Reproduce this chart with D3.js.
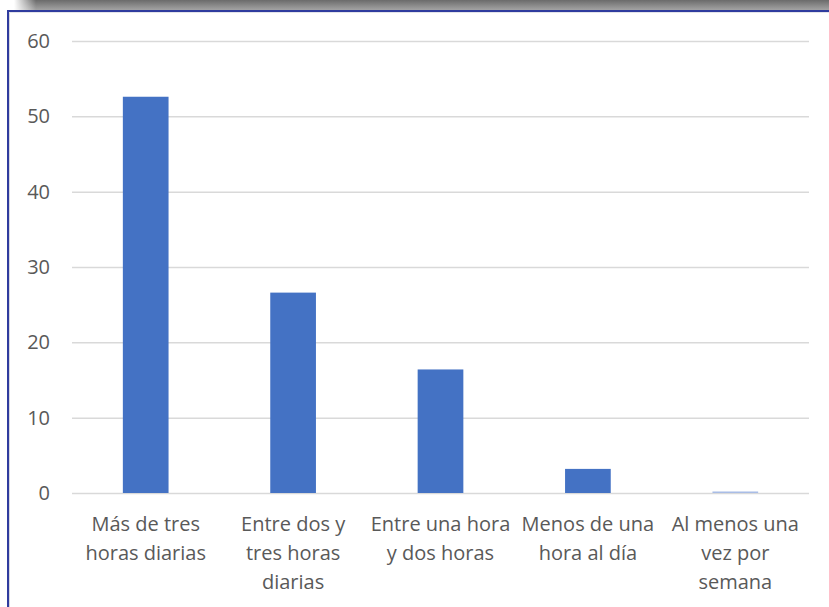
<!DOCTYPE html>
<html><head><meta charset="utf-8">
<script src="https://cdn.jsdelivr.net/npm/d3@7"></script>
<style>body{margin:0;background:#fff;}svg{display:block;}</style>
</head><body>
<svg id="c" width="829" height="607"></svg>
<script>
const categories = [
  ["Más de tres","horas diarias"],
  ["Entre dos y","tres horas","diarias"],
  ["Entre una hora","y dos horas"],
  ["Menos de una","hora al día"],
  ["Al menos una","vez por","semana"]
];
const values = [52.6, 26.6, 16.4, 3.2, 0.2];
const yTicks = [0,10,20,30,40,50,60];

(function(){
const svg = d3.select("#c");
const W = 829, H = 607;
const font = "'Open Sans', 'Noto Sans', sans-serif";

const defs = svg.append("defs");
const gv = defs.append("linearGradient").attr("id","gv").attr("x1",0).attr("y1",0).attr("x2",0).attr("y2",1);
gv.append("stop").attr("offset",0).attr("stop-color","#6b6b6b");
gv.append("stop").attr("offset",1).attr("stop-color","#a3a3a3");
const gh = defs.append("linearGradient").attr("id","gh").attr("x1",0).attr("y1",0).attr("x2",1).attr("y2",0);
gh.append("stop").attr("offset",0).attr("stop-color","#fff").attr("stop-opacity",1);
gh.append("stop").attr("offset",1).attr("stop-color","#fff").attr("stop-opacity",0);
svg.append("rect").attr("x",0).attr("y",0).attr("width",W).attr("height",10).attr("fill","url(#gv)");
svg.append("rect").attr("x",14).attr("y",0).attr("width",22).attr("height",10).attr("fill","url(#gh)");
svg.append("rect").attr("x",0).attr("y",0).attr("width",14).attr("height",10).attr("fill","#fff");
svg.append("rect").attr("x",7).attr("y",10).attr("width",W-7).attr("height",2).attr("fill","#2f3c9e");
svg.append("rect").attr("x",7).attr("y",10).attr("width",2).attr("height",H-10).attr("fill","#2f3c9e");
svg.append("rect").attr("x",9).attr("y",12).attr("width",1).attr("height",H-12).attr("fill","#d8d8e0");
svg.append("rect").attr("x",9).attr("y",12).attr("width",W-9).attr("height",1).attr("fill","#e4e4ea");

const pl = 72, pr = 809, pt = 41, pb = 493;
const x = d3.scaleBand().domain(d3.range(categories.length)).range([pl,pr]).paddingInner(0.69).paddingOuter(0.345);
const y = d3.scaleLinear().domain([0,60]).range([pb, pt]);

svg.append("g").selectAll("line").data(yTicks).join("line")
  .attr("x1",pl).attr("x2",pr)
  .attr("y1",d=>y(d)+0.5).attr("y2",d=>y(d)+0.5)
  .attr("stroke","#d9d9d9").attr("stroke-width",1.5);

const yAxis = d3.axisLeft(y).tickValues(yTicks).tickSize(0).tickPadding(22);
const ya = svg.append("g").attr("transform",`translate(${pl},0)`).call(yAxis);
ya.select(".domain").remove();
ya.selectAll("text").attr("font-family",font).attr("font-size",20).attr("fill","#595959");

svg.append("g").selectAll("rect").data(values).join("rect")
  .attr("x",(d,i)=>x(i)).attr("width",x.bandwidth())
  .attr("y",d=>y(d)).attr("height",d=>y(0)-y(d))
  .attr("fill",(d,i)=> i===4 ? "#a9bde6" : "#4472c4");

const xl = svg.append("g");
categories.forEach((lines,i)=>{
  const cx = x(i)+x.bandwidth()/2;
  const t = xl.append("text").attr("x",cx).attr("y",531)
    .attr("text-anchor","middle").attr("font-family",font).attr("font-size",20).attr("fill","#595959");
  lines.forEach((ln,j)=> t.append("tspan").attr("x",cx).attr("dy", j===0?0:29).text(ln));
});
})();
</script>
</body></html>
